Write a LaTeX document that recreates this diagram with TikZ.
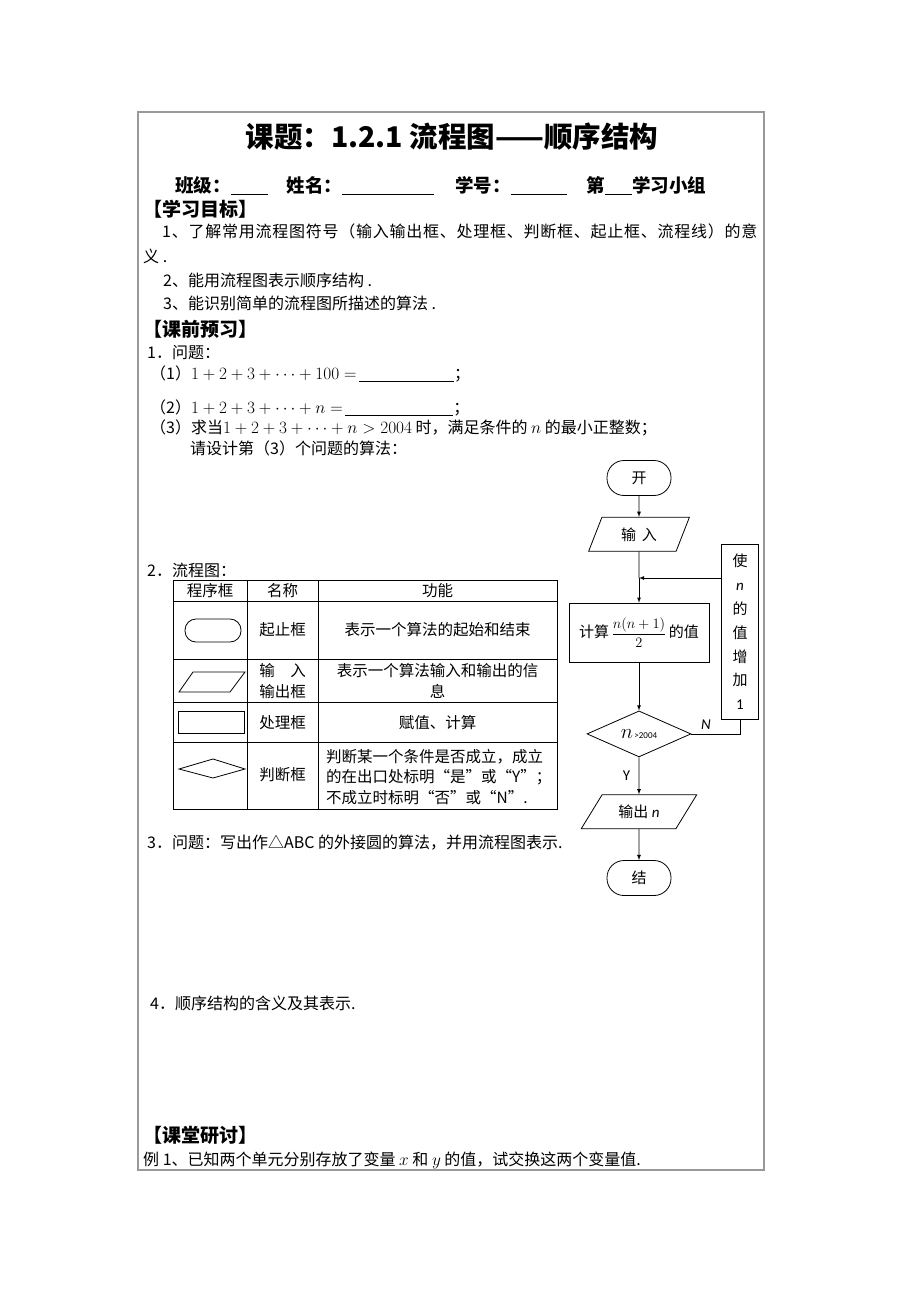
\documentclass[tikz,border=0pt]{standalone}
\usepackage{amsmath}
\usepackage[no-math]{fontspec}
\setmainfont{Noto Sans CJK SC}
\newfontfamily\calib{Carlito}
\usetikzlibrary{positioning,shapes.geometric}
\XeTeXlinebreaklocale "zh"
\XeTeXlinebreakskip=0pt plus 1pt

\begin{document}
\begin{tikzpicture}[x=1pt, y=-1pt, >=latex, node distance=20pt,
    txt/.style = {anchor=west, inner sep=0pt, font=\fontsize{16}{20}\selectfont},
    head/.style = {anchor=west, inner sep=0pt, font=\fontsize{19}{22}\selectfont\bfseries},
    cell/.style = {inner sep=0pt, align=center, font=\fontsize{15.5}{20.5}\selectfont},
    box/.style = {draw, line width=0.8pt, inner sep=0pt, font=\fontsize{15}{23.8}\selectfont},
    term/.style = {box, rounded corners=17pt, minimum width=64pt, minimum height=35pt},
    io/.style = {box, trapezium, trapezium stretches=true, minimum height=34pt},
    proc/.style = {box, rectangle},
    test/.style = {box, diamond, minimum width=104pt, minimum height=46pt},
    flow/.style = {line width=0.8pt}]
    \useasboundingbox (0,0) rectangle (920,1302);
    \fill[white] (0,0) rectangle (920,1302);
    \draw[gray!80, line width=1.3pt] (138,112) rectangle (764,1170);

    % heading
    \node[inner sep=0pt, font=\fontsize{28.5}{30}\selectfont\bfseries] (title) at (452,137) {课题：1.2.1 流程图——顺序结构};
    \node[head, font=\fontsize{18.5}{22}\selectfont\bfseries] (class) at (175,186) {班级：\underline{\hspace{37pt}}\hspace{19pt}姓名：\underline{\hspace{92pt}}\hspace{21pt}学号：\underline{\hspace{56pt}}\hspace{20pt}第\underline{\hspace{27pt}}学习小组};
    \node[head] (aims) at (143,209) {【学习目标】};
    \node[txt] (aim1) at (162,231) {\addfontfeature{LetterSpace=4.7}1、了解常用流程图符号（输入输出框、处理框、判断框、起止框、流程线）的意};
    \node[txt] (aim1b) at (143,256) {义 .};
    \node[txt] (aim2) at (163,280) {2、能用流程图表示顺序结构 .};
    \node[txt] (aim3) at (163,303) {3、能识别简单的流程图所描述的算法 .};

    % preview
    \node[head] (prev) at (143,329) {【课前预习】};
    \node[txt] (q1) at (147,353) {1．问题：};
    \node[txt] (q1a) at (150,374) {（1）$1+2+3+\cdots+100=$\,\underline{\hspace{95pt}}；};
    \node[txt] (q1b) at (150,408) {（2）$1+2+3+\cdots+n=$\,\underline{\hspace{108pt}}；};
    \node[txt] (q1c) at (150,428) {（3）求当$1+2+3+\cdots+n>2004$ 时，满足条件的 $n$ 的最小正整数；};
    \node[txt] (q1d) at (190,448) {请设计第（3）个问题的算法：};
    \node[txt] (q2) at (147,570) {2．流程图：};

    % table of boxes
    \draw[line width=0.8pt] (173,580) rectangle (557,809);
    \foreach \y in {601,659,702,742}
        \draw[line width=0.8pt] (173,\y) -- (557,\y);
    \foreach \x in {247,318}
        \draw[line width=0.8pt] (\x,580) -- (\x,809);
    \node[cell] (h1) at (210,591) {程序框};
    \node[cell] (h2) at (282.5,591) {名称};
    \node[cell] (h3) at (437.5,591) {功能};
    \draw[line width=0.8pt, rounded corners=11pt] (185,619) rectangle (241,642);
    \node[cell] (r1b) at (282.5,630) {起止框};
    \node[cell] (r1c) at (437.5,630) {表示一个算法的起始和结束};
    \draw[line width=0.8pt] (179,692) -- (193,672) -- (245,672) -- (230,692) -- cycle;
    \node[cell] (r2b) at (282.5,681) {输　入\\输出框};
    \node[cell] (r2c) at (437.5,681) {表示一个算法输入和输出的信\\息};
    \draw[line width=0.8pt] (178,711) rectangle (244,733);
    \node[cell] (r3b) at (282.5,723) {处理框};
    \node[cell] (r3c) at (437.5,723) {赋值、计算};
    \draw[line width=0.8pt] (179,769) -- (213,759) -- (245,769) -- (213,778) -- cycle;
    \node[cell] (r4b) at (282.5,775) {判断框};
    \node[cell, align=left, anchor=west] (r4c) at (326,777) {判断某一个条件是否成立，成立\\的在出口处标明“是”或“Y”；\\不成立时标明“否”或“N”.};

    % flow chart
    \node[term] (start) at (639,478) {开\hspace{14pt}};
    \node[io, trapezium left angle=65, trapezium right angle=115, minimum width=101pt, below=21pt of start] (inp) {输\hspace{0.4em}入};
    \node[proc, minimum width=140pt, minimum height=59pt, below=51pt of inp] (calc) {计算\,$\dfrac{n(n+1)}{2}$\,的值};
    \node[test, below=48pt of calc] (dec) {{\fontsize{21}{21}\selectfont$n$}{\calib\fontsize{9}{9}\selectfont\,>2004}};
    \node[io, trapezium left angle=50, trapezium right angle=130, minimum width=116pt, below=37pt of dec] (outp) {输出 {\calib\itshape n}};
    \node[term, below=31pt of outp] (stop) {结\hspace{14pt}};
    \node[proc, minimum width=37pt, minimum height=175pt, align=center] (inc) at (740,632) {使\\{\calib\itshape n}\\的\\值\\增\\加\\{\calib 1}};
    \coordinate (join) at (639,578);

    \draw[flow,->] (start) -- (inp);
    \draw[flow] (inp) -- (join);
    \draw[flow,->] (join) -- (calc);
    \draw[flow,->] (inc.west |- join) -- (join);
    \draw[flow,->] (calc) -- (dec);
    \draw[flow,->] (dec) -- node[left=5pt, font=\calib\fontsize{15}{15}\selectfont] (ylab) {Y} (outp);
    \draw[flow] (dec.east) -- node[above=1pt, pos=0.3, font=\calib\itshape\fontsize{15}{15}\selectfont] (nlab) {N} (dec.east -| inc.south) -- (inc.south);
    \draw[flow,->] (outp) -- (stop);

    % remaining questions
    \node[txt] (q3) at (147,843) {3．问题：写出作△ABC 的外接圆的算法，并用流程图表示.};
    \node[txt] (q4) at (150,1003) {4．顺序结构的含义及其表示.};
    \node[head] (study) at (143,1135) {【课堂研讨】};
    \node[txt] (ex1) at (143,1160) {例 1、已知两个单元分别存放了变量 $x$ 和 $y$ 的值，试交换这两个变量值.};
\end{tikzpicture}
\end{document}
